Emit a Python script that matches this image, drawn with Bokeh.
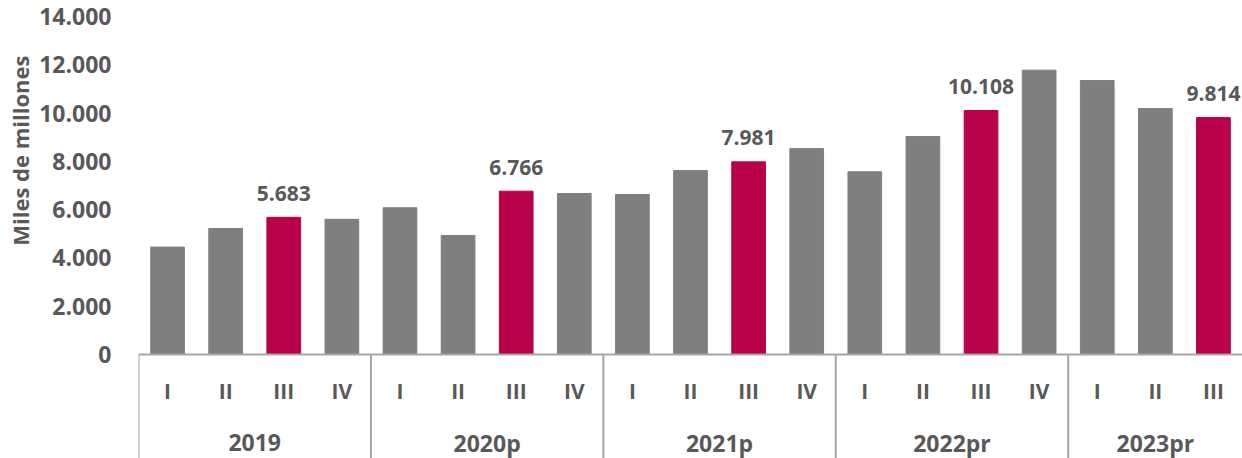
from bokeh.plotting import figure
from bokeh.models import FactorRange, Range1d, FixedTicker, Span, Title, ColumnDataSource
from bokeh.core.properties import value
from bokeh.embed import file_html
from bokeh.resources import INLINE

# ---------------- data ----------------
years = ["2019", "2020p", "2021p", "2022pr", "2023pr"]
quarters_per_year = [
    ["I", "II", "III", "IV"],
    ["I", "II", "III", "IV"],
    ["I", "II", "III", "IV"],
    ["I", "II", "III", "IV"],
    ["I", "II", "III"],
]
values_ = [4450, 5220, 5683, 5600,
           6080, 4930, 6766, 6670,
           6630, 7620, 7981, 8530,
           7570, 9030, 10108, 11780,
           11350, 10190, 9814]
highlight_quarter = "III"
y_ticks = [0, 2000, 4000, 6000, 8000, 10000, 12000, 14000]
y_tick_labels = ["0", "2.000", "4.000", "6.000", "8.000", "10.000", "12.000", "14.000"]
y_title = "Miles de millones"

# ---------------- styling ----------------
GREY = "#7F7F7F"
RED = "#B8004B"
TXT = "#595959"
LINE = "#A6A6A6"
FONT = value("Open Sans")

factors = [(y, q) for y, qs in zip(years, quarters_per_year) for q in qs]
colors = [RED if q == highlight_quarter else GREY for _, q in factors]

src = ColumnDataSource(dict(x=factors, top=values_, color=colors))

x_range = FactorRange(*factors, factor_padding=0, group_padding=0, range_padding=0)
y_range = Range1d(-4308, 14665)

p = figure(width=1242, height=458, x_range=x_range, y_range=y_range,
           output_backend="svg", toolbar_location=None, x_axis_location=None,
           min_border_left=137, min_border_right=0, min_border_top=0, min_border_bottom=0)
p.outline_line_color = None
p.grid.grid_line_color = None
p.background_fill_color = "white"
p.border_fill_color = "white"

p.vbar(x="x", top="top", width=0.58, bottom=0, color="color", source=src)

# baseline
p.add_layout(Span(location=0, dimension="width", line_color=LINE, line_width=2))

# data labels for highlighted quarters
lab_x = [f for f in factors if f[1] == highlight_quarter]
lab_v = [v for f, v in zip(factors, values_) if f[1] == highlight_quarter]
lab_t = [f"{v:,}".replace(",", ".") for v in lab_v]
p.text(x=lab_x, y=lab_v, text=lab_t, text_font=FONT, text_font_style="bold",
       text_font_size="21px", text_color=TXT, text_align="center",
       text_baseline="middle", y_offset=-24)

# quarter labels
p.text(x=factors, y=[0] * len(factors), text=[q for _, q in factors], text_font=FONT,
       text_font_style="bold", text_font_size="21px", text_color=TXT,
       text_align="center", text_baseline="middle", y_offset=36)

# year labels
p.text(x=years, y=[0] * len(years), text=years, text_font=FONT,
       text_font_style="bold", text_font_size="23px", text_color=TXT,
       text_align="center", text_baseline="middle", y_offset=88)

# group separators
sep_x = [(y, qs[0], -0.5) for y, qs in zip(years, quarters_per_year)]
p.segment(x0=sep_x, x1=sep_x, y0=[0] * len(sep_x), y1=[y_range.start] * len(sep_x),
          line_color=LINE, line_width=2)

# y axis
ax = p.yaxis[0]
ax.ticker = FixedTicker(ticks=y_ticks)
ax.major_label_overrides = {t: l for t, l in zip(y_ticks, y_tick_labels)}
ax.axis_line_color = None
ax.major_tick_line_color = None
ax.minor_tick_line_color = None
ax.major_tick_out = 0
ax.major_tick_in = 0
ax.major_label_standoff = 27
ax.major_label_text_font = "Open Sans"
ax.major_label_text_font_style = "bold"
ax.major_label_text_font_size = "23px"
ax.major_label_text_color = TXT

p.add_layout(Title(text=y_title, align="right", offset=55, standoff=4,
                   text_font="Open Sans", text_font_style="bold", text_font_size="22px",
                   text_color=TXT), "left")

open("out.html", "w").write(file_html(p, INLINE))
